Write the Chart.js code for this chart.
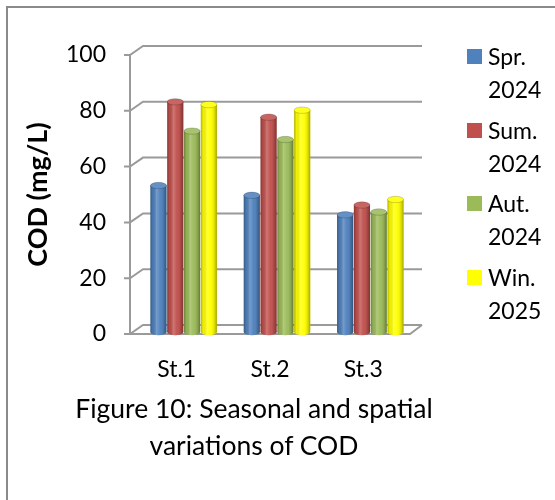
<!DOCTYPE html>
<html><head><meta charset="utf-8">
<script src="https://cdn.jsdelivr.net/npm/chart.js@4/dist/chart.umd.min.js"></script>
<style>
html,body{margin:0;padding:0;background:#fff;width:555px;height:500px;overflow:hidden;font-family:Lato, sans-serif;}
#frame{position:absolute;left:6px;top:6px;width:600px;height:600px;border:2px solid #8a8a8a;box-sizing:border-box;}
#c{position:absolute;left:0;top:0;}
#legend{position:absolute;left:467px;top:40px;}
.item{position:relative;height:73.5px;width:88px;}
.sw{position:absolute;left:0;top:9px;width:15px;height:15px;}
.txt{position:absolute;left:21px;top:0;font-size:23px;line-height:33px;color:#000;white-space:nowrap;}
#caption{position:absolute;left:54px;width:400px;top:390px;text-align:center;font-size:26.5px;line-height:37px;color:#000;white-space:nowrap;}
</style></head>
<body>
<div id="frame"></div>
<canvas id="c" width="555" height="500"></canvas>
<div id="legend"></div>
<div id="caption">Figure 10: Seasonal and spatial<br>variations of COD</div>
<script>
const categories = ['St.1', 'St.2', 'St.3'];
const seriesNames = [['Spr.', '2024'], ['Sum.', '2024'], ['Aut.', '2024'], ['Win.', '2025']];
const spr2024 = [52.5, 49, 42];
const sum2024 = [82.5, 77, 45.5];
const aut2024 = [72, 69, 43];
const win2025 = [81.5, 79.5, 47.5];
const yTicks = [0, 20, 40, 60, 80, 100];
const colors = ['#4f81bd', '#c0504d', '#9bbb59', '#ffff00'];
const axisTitle = 'COD (mg/L)';

const seriesValues = [spr2024, sum2024, aut2024, win2025];

// HTML legend
const lg = document.getElementById('legend');
seriesNames.forEach((n, i) => {
  const it = document.createElement('div'); it.className = 'item';
  const sw = document.createElement('div'); sw.className = 'sw'; sw.style.background = colors[i];
  const tx = document.createElement('div'); tx.className = 'txt'; tx.innerHTML = n.join('<br>');
  it.appendChild(sw); it.appendChild(tx); lg.appendChild(it);
});

const DX = 13, DY = -9, RX = 12;
const cyl = {
  id: 'cyl',
  beforeDatasetsDraw(chart) {
    const ctx = chart.ctx, a = chart.chartArea, y = chart.scales.y;
    ctx.save();
    ctx.strokeStyle = '#9a9a9a'; ctx.lineWidth = 2;
    yTicks.forEach(v => {
      const py = y.getPixelForValue(v);
      ctx.beginPath();
      ctx.moveTo(a.left - 6, py); ctx.lineTo(a.left, py);
      ctx.lineTo(a.left + DX, py + DY); ctx.lineTo(a.right + RX, py + DY);
      ctx.stroke();
    });
    const p0 = y.getPixelForValue(0);
    ctx.beginPath(); ctx.moveTo(a.left, p0); ctx.lineTo(a.right, p0); ctx.lineTo(a.right + RX, p0 + DY); ctx.stroke();
    ctx.beginPath(); ctx.moveTo(a.left, y.getPixelForValue(100)); ctx.lineTo(a.left, p0); ctx.stroke();
    ctx.restore();
    ctx.save();
    ctx.translate(7, -2);
  },
  afterDatasetsDraw(chart) {
    const ctx = chart.ctx;
    chart.data.datasets.forEach((ds, i) => {
      chart.getDatasetMeta(i).data.forEach(el => {
        const p = el.getProps(['x', 'y', 'base', 'width'], true);
        const w = p.width, l = p.x - w / 2, top = p.y, base = p.base, ry = 3.2;
        const col = colors[i];
        ctx.fillStyle = col;
        ctx.beginPath(); ctx.ellipse(p.x, base, w / 2, ry, 0, 0, Math.PI * 2); ctx.fill();
        const g = ctx.createLinearGradient(l, 0, l + w, 0);
        g.addColorStop(0, 'rgba(0,0,0,0.30)');
        g.addColorStop(0.15, 'rgba(0,0,0,0.06)');
        g.addColorStop(0.38, 'rgba(255,255,255,0.22)');
        g.addColorStop(0.6, 'rgba(255,255,255,0.04)');
        g.addColorStop(0.85, 'rgba(0,0,0,0.14)');
        g.addColorStop(1, 'rgba(0,0,0,0.35)');
        ctx.fillStyle = g;
        ctx.beginPath();
        ctx.moveTo(l, top); ctx.lineTo(l, base);
        ctx.ellipse(p.x, base, w / 2, ry, 0, Math.PI, 0, true);
        ctx.lineTo(l + w, top); ctx.closePath(); ctx.fill();
        ctx.fillStyle = col;
        ctx.beginPath(); ctx.ellipse(p.x, top, w / 2, ry, 0, 0, Math.PI * 2); ctx.fill();
        ctx.fillStyle = 'rgba(255,255,255,0.12)'; ctx.fill();
        ctx.strokeStyle = 'rgba(0,0,0,0.22)'; ctx.lineWidth = 0.8; ctx.stroke();
      });
    });
    ctx.restore();
  }
};

new Chart(document.getElementById('c'), {
  type: 'bar',
  data: {
    labels: categories,
    datasets: seriesValues.map((vals, i) => ({
      label: seriesNames[i].join(' '),
      data: vals,
      backgroundColor: colors[i],
      borderWidth: 0,
      categoryPercentage: 0.72,
      barPercentage: 0.96,
      clip: false
    }))
  },
  options: {
    responsive: false, animation: false, devicePixelRatio: 1,
    layout: { padding: { top: 55, right: 145, bottom: 106, left: 0 } },
    plugins: { legend: { display: false }, tooltip: { enabled: false } },
    scales: {
      x: {
        grid: { display: false, drawTicks: false }, border: { display: false },
        ticks: { font: { family: 'Lato', size: 23 }, color: '#000', padding: 22 },
        afterFit(s) { s.height = 60; }
      },
      y: {
        min: 0, max: 100,
        afterBuildTicks(s) { s.ticks = yTicks.map(v => ({ value: v })); },
        grid: { display: false, drawTicks: false }, border: { display: false },
        ticks: { font: { family: 'Lato', size: 23 }, color: '#000', padding: 24 },
        title: { display: true, text: axisTitle, color: '#000',
          font: { family: 'Lato', size: 27, weight: 'bold' }, padding: { top: 22, bottom: 0 } },
        afterFit(s) { s.width = 130; }
      }
    }
  },
  plugins: [cyl]
});
</script>
</body></html>
